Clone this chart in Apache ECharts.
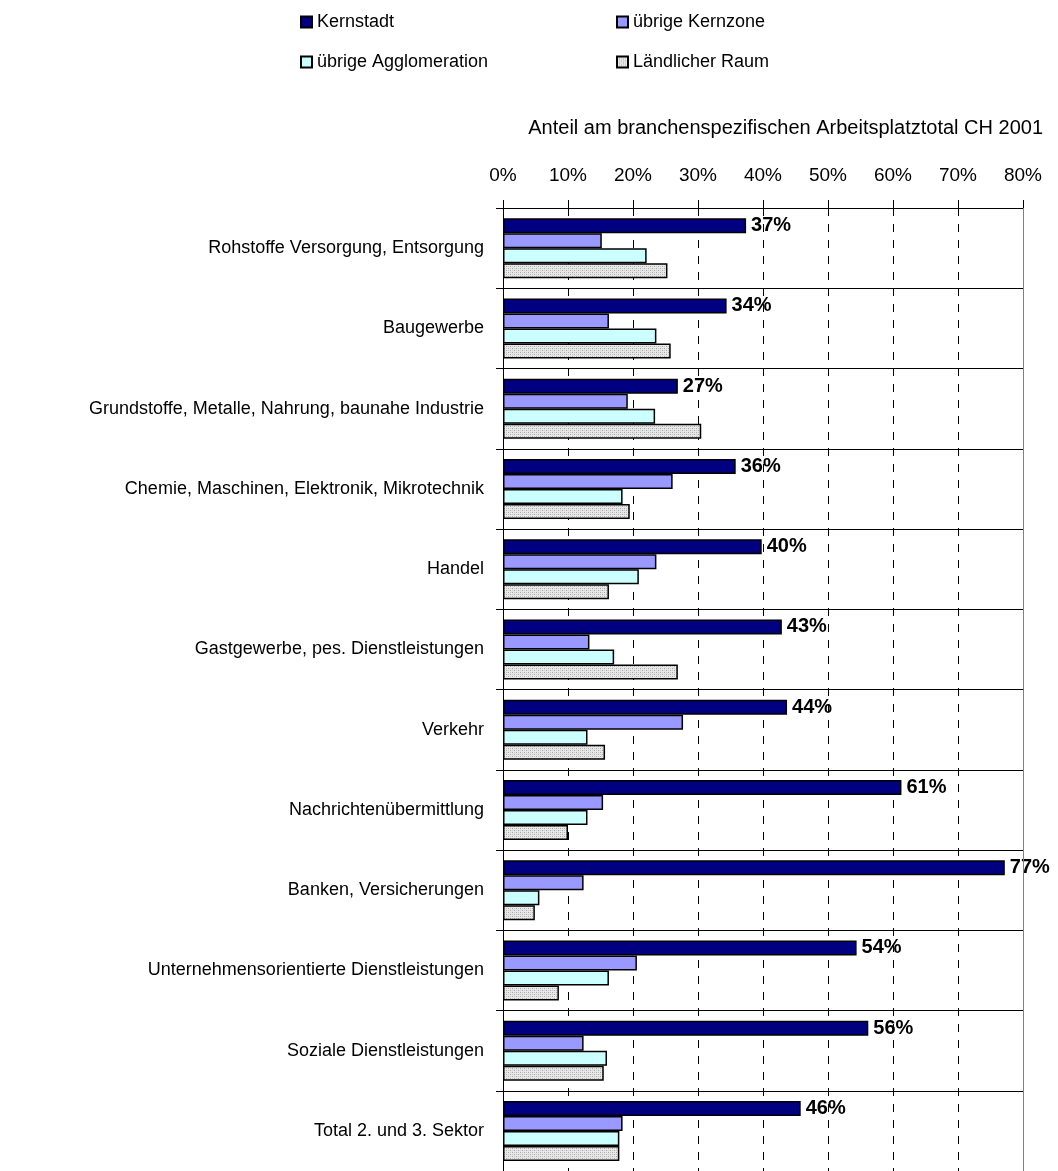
<!DOCTYPE html>
<html>
<head>
<meta charset="utf-8">
<script src="https://cdn.jsdelivr.net/npm/echarts@6/dist/echarts.min.js"></script>
<style>
  html, body { margin: 0; padding: 0; background: #fff; }
  #chart { width: 1058px; height: 1171px; }
</style>
</head>
<body>
<div id="chart"></div>
<script>
// Branchen (von oben nach unten)
var categories = [
  'Rohstoffe Versorgung, Entsorgung',
  'Baugewerbe',
  'Grundstoffe, Metalle, Nahrung, baunahe Industrie',
  'Chemie, Maschinen, Elektronik, Mikrotechnik',
  'Handel',
  'Gastgewerbe, pes. Dienstleistungen',
  'Verkehr',
  'Nachrichtenübermittlung',
  'Banken, Versicherungen',
  'Unternehmensorientierte Dienstleistungen',
  'Soziale Dienstleistungen',
  'Total 2. und 3. Sektor'
]

// Anteile in %
var kernstadt     = [37.4, 34.4, 26.9, 35.8, 39.8, 42.9, 43.7, 61.3, 77.2, 54.4, 56.2, 45.8]
var kernzone      = [15.2, 16.3, 19.2, 26.1, 23.6, 13.3, 27.7, 15.4, 12.4, 20.6, 12.4, 18.4]
var agglomeration = [22.1, 23.6, 23.4, 18.4, 20.9, 17.1, 13.0, 13.0, 5.6, 16.3, 16.0, 17.9]
var laendlich     = [25.3, 25.8, 30.5, 19.5, 16.3, 26.9, 15.7, 10.0, 4.9, 8.6, 15.5, 17.9]

var seriesNames = ['Kernstadt', 'übrige Kernzone', 'übrige Agglomeration', 'Ländlicher Raum']
var axisTitle = 'Anteil am branchenspezifischen Arbeitsplatztotal CH 2001'

var font = "'Liberation Sans', Arial, sans-serif"

// gepunktetes Muster für "Ländlicher Raum"
function dotPattern() {
  var c = document.createElement('canvas')
  c.width = 4
  c.height = 4
  var ctx = c.getContext('2d')
  ctx.fillStyle = '#e8e8e8'
  ctx.fillRect(0, 0, 4, 4)
  ctx.fillStyle = '#a8a8a8'
  ctx.fillRect(0, 0, 1, 1)
  ctx.fillRect(2, 2, 1, 1)
  ctx.fillStyle = '#c8c8c8'
  ctx.fillRect(2, 0, 1, 1)
  ctx.fillRect(0, 2, 1, 1)
  return c
}

var colors = ['#000080', '#9999ff', '#ccffff', { image: dotPattern(), repeat: 'repeat' }]

function barSeries(name, data, idx) {
  var s = {
    name: name,
    type: 'bar',
    data: data,
    barWidth: 15,
    barGap: '0%',
    itemStyle: { color: colors[idx], borderColor: '#000', borderWidth: 1.5 }
  }
  if (idx === 0) {
    s.label = {
      show: true,
      position: 'right',
      distance: 5,
      color: '#000',
      fontFamily: font,
      fontWeight: 'bold',
      fontSize: 20,
      formatter: function (p) { return Math.round(p.value) + '%' }
    }
  }
  if (idx === 3) {
    // rechter Rahmen der Zeichenfläche
    s.markLine = {
      silent: true,
      symbol: 'none',
      label: { show: false },
      lineStyle: { color: '#808080', type: 'solid', width: 1 },
      data: [{ xAxis: 80 }]
    }
  }
  return s
}

var chart = echarts.init(document.getElementById('chart'))

var option = {
  animation: false,
  backgroundColor: '#fff',
  textStyle: { fontFamily: font, color: '#000' },
  legend: [
    {
      data: [seriesNames[0], seriesNames[2]],
      orient: 'vertical',
      left: 300, top: 13, padding: 0,
      itemWidth: 11, itemHeight: 11, itemGap: 22,
      icon: 'rect',
      textStyle: { fontFamily: font, fontSize: 18, color: '#000' }
    },
    {
      data: [seriesNames[1], seriesNames[3]],
      orient: 'vertical',
      left: 616, top: 13, padding: 0,
      itemWidth: 11, itemHeight: 11, itemGap: 22,
      icon: 'rect',
      textStyle: { fontFamily: font, fontSize: 18, color: '#000' }
    }
  ],
  graphic: [
    {
      type: 'text',
      right: 15,
      top: 118,
      style: { text: axisTitle, fontFamily: font, fontSize: 20, fill: '#000' }
    }
  ],
  grid: { left: 503, right: 35, top: 208, height: 970 },
  xAxis: [
    {
      type: 'value',
      position: 'top',
      min: 0, max: 80, interval: 10,
      axisLine: { show: true, lineStyle: { color: '#000', width: 1 } },
      axisTick: { show: true, length: 8, lineStyle: { color: '#000' } },
      axisLabel: { formatter: '{value}%', fontSize: 19, color: '#000', fontFamily: font, margin: 23 },
      splitLine: { show: true, lineStyle: { color: '#000', type: [8, 8], width: 1 } }
    },
    {
      // Ticks nach innen, damit sie die Achse kreuzen
      type: 'value',
      position: 'top',
      min: 0, max: 80, interval: 10,
      axisLine: { show: false },
      axisTick: { show: true, inside: true, length: 8, lineStyle: { color: '#000' } },
      axisLabel: { show: false },
      splitLine: { show: false }
    }
  ],
  yAxis: {
    type: 'category',
    data: categories,
    inverse: true,
    axisLine: { show: true, lineStyle: { color: '#000', width: 1 } },
    axisTick: { show: true, length: 7, lineStyle: { color: '#000' } },
    axisLabel: { fontSize: 18, color: '#000', fontFamily: font, margin: 19 },
    splitLine: { show: true, lineStyle: { color: '#000', width: 1 } }
  },
  series: [
    barSeries(seriesNames[0], kernstadt, 0),
    barSeries(seriesNames[1], kernzone, 1),
    barSeries(seriesNames[2], agglomeration, 2),
    barSeries(seriesNames[3], laendlich, 3)
  ]
}

chart.setOption(option)
</script>
</body>
</html>
